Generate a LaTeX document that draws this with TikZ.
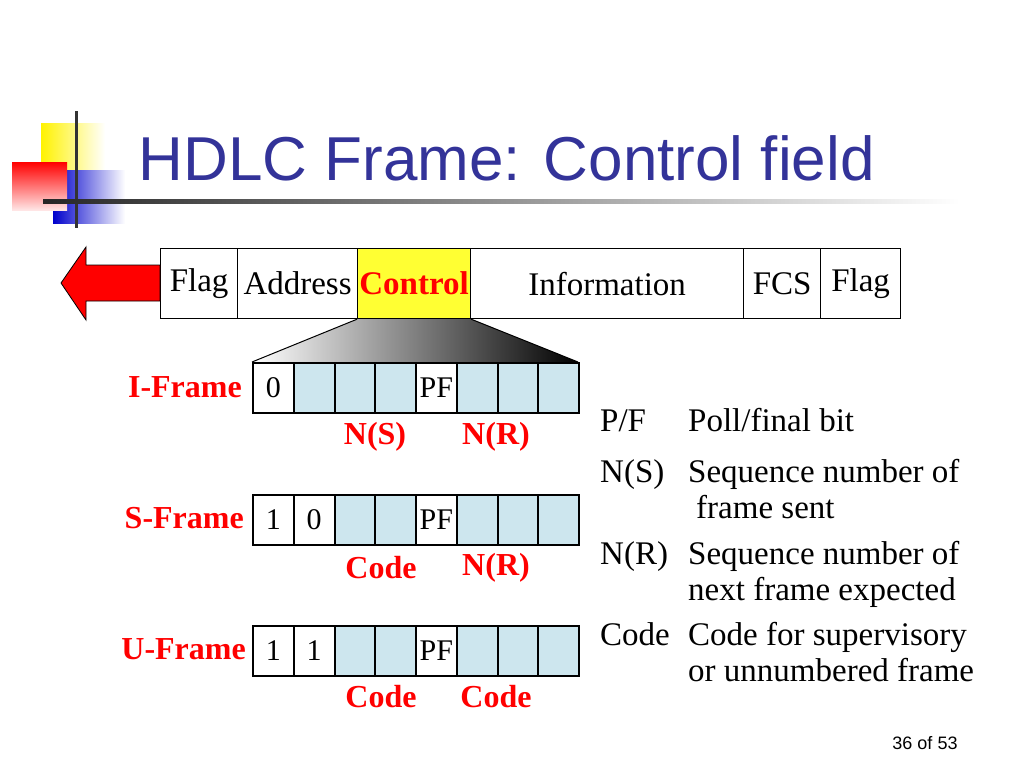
\documentclass[tikz,border=0pt]{standalone}
\usepackage{fontspec}
\setmainfont{Liberation Serif}
\newfontfamily\titlefont{Liberation Sans}
\definecolor{titleblue}{HTML}{333399}
\definecolor{bitblue}{HTML}{CDE6EE}
\definecolor{ctlyellow}{HTML}{FFFF33}
\tikzset{x=1pt,y=-1pt,
 cell/.style={draw=black,line width=1.2pt,minimum height=70pt,inner sep=0pt,font=\fontsize{33}{33}\selectfont,anchor=north west},
 bit/.style={draw=black,line width=2pt,minimum height=50pt,minimum width=40.75pt,inner sep=0pt,font=\fontsize{30}{30}\selectfont,anchor=north west},
 bb/.style={bit,fill=bitblue},
 flab/.style={text=red,font=\fontsize{32}{32}\selectfont\bfseries,anchor=east,inner sep=0pt},
 blab/.style={text=red,font=\fontsize{32}{32}\selectfont\bfseries},
 rtext/.style={font=\fontsize{33}{33}\selectfont,anchor=base west,inner sep=0pt}}
\begin{document}
\begin{tikzpicture}
\useasboundingbox (0,0) rectangle (1024,768);
% logo
\fill[left color=yellow!90!orange,right color=white] (41,123) rectangle (105,180);
\fill[left color=blue!80!black,right color=white] (53,170) rectangle (125,223);
\fill[top color=red,bottom color=red!10] (12,162) rectangle (67,210);
\draw[line width=3pt,black!80] (76,111) -- (76,228);
\shade[left color=black!85,right color=white] (43,199) rectangle (960,203);
\node[text=titleblue,font=\titlefont\fontsize{62}{62}\selectfont,anchor=west] (title) at (135,158) {HDLC Frame: Control field};
% frame
\node[cell,minimum width=77pt] (flag1) at (160,248) {Flag};
\node[cell,minimum width=120pt] (addr) at (237,248) {Address};
\node[cell,minimum width=113pt,fill=ctlyellow,text=red,font=\fontsize{33}{33}\selectfont\bfseries] (ctl) at (357,248) {Control};
\node[cell,minimum width=273pt] (info) at (470,248) {Information};
\node[cell,minimum width=77pt] (fcs) at (743,248) {FCS};
\node[cell,minimum width=80pt] (flag2) at (820,248) {Flag};
% arrow
\coordinate (tip) at (61,283);
\filldraw[fill=red,draw=black,line width=0.8pt] (tip) -- (86,247) -- (86,265) -- (flag1.west |- 0,265) -- (flag1.west |- 0,301) -- (86,301) -- (86,320) -- cycle;
% trapezoid
\shade[left color=white,right color=black] (ctl.south west) -- (ctl.south east) -- (578,362) -- (252,362) -- cycle;
\draw[line width=1pt] (ctl.south west) -- (252,362) (ctl.south east) -- (578,362);
% I-frame
\foreach \i/\t/\s in {0/0/bit,1//bb,2//bb,3//bb,4/PF/bit,5//bb,6//bb,7//bb}
  \node[\s] (i\i) at (252+40.75*\i,362) {\t};
\node[flab] (il) at (242,387) {I-Frame};
\node[blab] (ins) at (375,437) {N(S)};
\node[blab] (inr) at (496,437) {N(R)};
% S-frame
\foreach \i/\t/\s in {0/1/bit,1/0/bit,2//bb,3//bb,4/PF/bit,5//bb,6//bb,7//bb}
  \node[\s] (s\i) at (252+40.75*\i,494) {\t};
\node[flab] (sl) at (244,518) {S-Frame};
\node[blab] (sc) at (381,568) {Code};
\node[blab] (snr) at (496,568) {N(R)};
% U-frame
\foreach \i/\t/\s in {0/1/bit,1/1/bit,2//bb,3//bb,4/PF/bit,5//bb,6//bb,7//bb}
  \node[\s] (u\i) at (252+40.75*\i,625) {\t};
\node[flab] (ul) at (246,649) {U-Frame};
\node[blab] (uc1) at (381,697) {Code};
\node[blab] (uc2) at (496,697) {Code};
% legend
\node[rtext] (k1) at (600,431) {P/F};
\node[rtext] (v1) at (688,431) {Poll/final bit};
\node[rtext] (k2) at (600,482) {N(S)};
\node[rtext] (v2) at (688,482) {Sequence number of};
\node[rtext] (v2b) at (696,518) {frame sent};
\node[rtext] (k3) at (600,564) {N(R)};
\node[rtext] (v3) at (688,564) {Sequence number of};
\node[rtext] (v3b) at (688,600) {next frame expected};
\node[rtext] (k4) at (600,645) {Code};
\node[rtext] (v4) at (688,645) {Code for supervisory};
\node[rtext] (v4b) at (688,681) {or unnumbered frame};
\node[font=\titlefont\fontsize{18}{18}\selectfont] (pg) at (925,743) {36 of 53};
\end{tikzpicture}
\end{document}
